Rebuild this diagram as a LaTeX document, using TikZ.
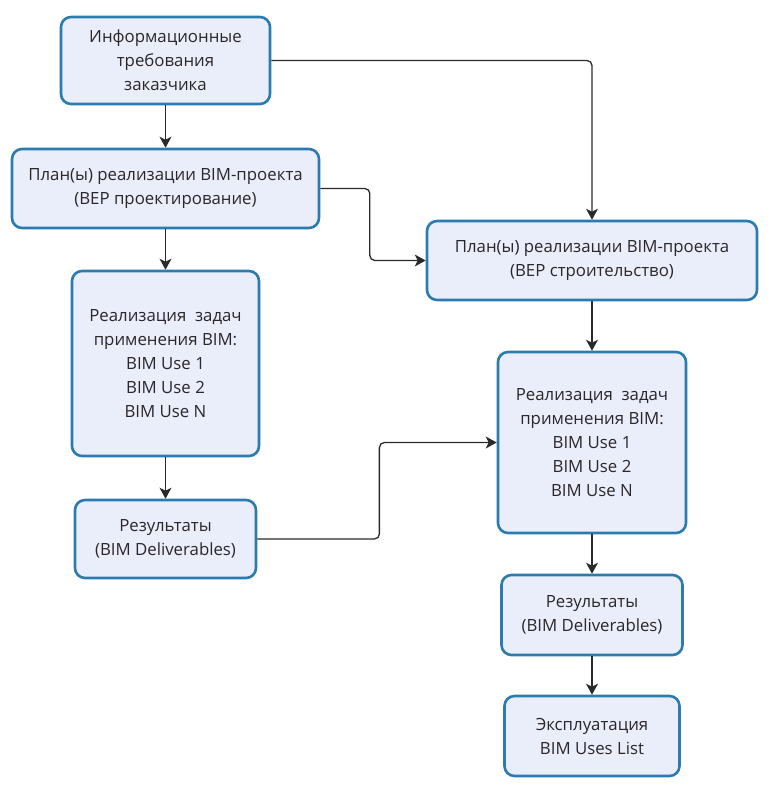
\documentclass[tikz,border=0pt]{standalone}
\usepackage{fontspec}
\setmainfont{Open Sans}
\usetikzlibrary{arrows.meta,calc}
\definecolor{boxfill}{HTML}{EAEEFB}
\definecolor{boxline}{HTML}{2C7BAE}
\definecolor{txt}{HTML}{2A262A}
\definecolor{conncol}{HTML}{2A2A2A}
\tikzset{
  box/.style={draw=boxline, fill=boxfill, line width=2.6pt, rounded corners=10pt,
    align=center, text=txt, inner sep=0pt, font=\fontsize{16.8}{24}\selectfont},
  conn/.style={draw=conncol, line width=1.3pt, rounded corners=5pt,
    -{Stealth[length=11pt,width=12pt,inset=3pt]}}
}
\begin{document}
\begin{tikzpicture}[x=1pt,y=-1pt]
\useasboundingbox (0,0) rectangle (772,795);
\node[box, minimum width=209pt, minimum height=87pt] (b1) at (165.5,60.5) {Информационные\\требования\\заказчика};
\node[box, minimum width=307pt, minimum height=79pt] (b2) at (165.5,188.5) {План(ы) реализации BIM-проекта\\(BEP проектирование)};
\node[box, minimum width=187pt, minimum height=185pt] (b3) at (165.5,363.5) {Реализация\ \ задач\\применения BIM:\\BIM Use 1\\BIM Use 2\\BIM Use N};
\node[box, minimum width=181pt, minimum height=78pt] (b4) at (165.5,539) {Результаты\\(BIM Deliverables)};
\node[box, minimum width=330pt, minimum height=79pt] (b5) at (592,260.5) {План(ы) реализации BIM-проекта\\(BEP строительство)};
\node[box, minimum width=188pt, minimum height=181pt] (b6) at (592,442.5) {Реализация\ \ задач\\применения BIM:\\BIM Use 1\\BIM Use 2\\BIM Use N};
\node[box, minimum width=181pt, minimum height=80pt] (b7) at (592,615) {Результаты\\(BIM Deliverables)};
\node[box, minimum width=175pt, minimum height=80pt] (b8) at (592,736) {Эксплуатация\\BIM Uses List};
\coordinate (m1) at ($(b2.east)!0.47!(b5.west)$);
\coordinate (m2) at ($(b4.east)!0.51!(b6.west)$);
\draw[conn] (b1) -- (b2);
\draw[conn] (b2) -- (b3);
\draw[conn] (b3) -- (b4);
\draw[conn] (b1.east) -| (b5.north);
\draw[conn] (b2.east) -| (m1) |- (b5.west);
\draw[conn] (b4.east) -| (m2) |- (b6.west);
\draw[conn] (b5) -- (b6);
\draw[conn] (b6) -- (b7);
\draw[conn] (b7) -- (b8);
\end{tikzpicture}
\end{document}
